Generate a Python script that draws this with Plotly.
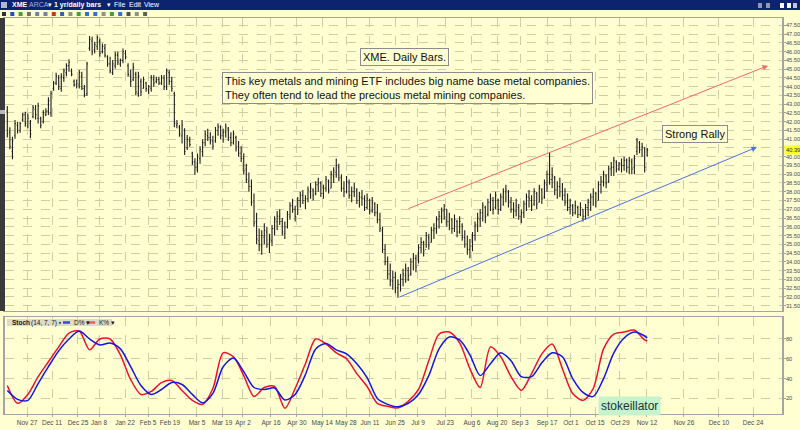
import plotly.graph_objects as go

# ---------------- data ----------------
highs = [42.89,41.68,41.14,42.09,42.00,42.00,42.51,42.57,42.47,42.09,
         42.95,42.95,43.08,42.28,42.66,42.76,43.39,43.77,44.32,44.79,
         44.66,44.76,45.04,45.33,45.56,45.04,44.41,44.41,44.95,44.85,
         44.09,45.42,46.89,46.85,46.56,46.94,46.75,46.47,46.43,45.80,
         45.71,45.52,45.99,45.99,45.61,46.18,46.09,45.33,44.98,45.37,
         44.85,44.85,44.47,44.57,44.28,44.09,44.66,44.66,44.57,44.57,
         44.66,44.66,45.04,44.95,44.57,43.71,42.09,41.81,42.09,41.62,
         41.24,41.14,40.29,39.91,40.19,
         40.6,41.0,41.5,41.6,41.4,41.2,41.7,41.9,41.8,41.6,
         41.9,41.7,41.4,41.5,41.2,40.9,40.6,40.2,39.6,39.1,
         38.7,37.9,36.8,35.9,35.8,36.2,36.0,35.6,36.1,36.6,
         36.9,37.0,36.5,36.3,36.9,37.4,37.6,37.2,37.7,38.0,
         38.1,37.8,38.3,38.5,38.2,38.6,38.8,38.6,38.4,38.9,
         38.7,39.2,39.4,39.9,39.6,39.0,38.6,38.9,38.7,38.3,
         38.5,38.2,38.0,38.1,37.8,37.9,37.6,37.7,37.4,37.3,
         36.8,36.0,35.0,34.3,33.9,33.5,33.4,33.0,33.3,33.6,
         33.9,33.7,34.2,34.5,34.4,35.0,35.4,35.2,35.7,35.6,
         36.0,36.2,36.6,36.9,37.1,37.3,37.0,36.8,36.5,36.7,
         36.4,36.6,36.2,35.8,35.5,35.3,35.7,36.3,36.8,37.0,
         37.4,37.2,37.6,37.9,37.7,38.0,37.6,37.9,38.2,38.4,
         38.1,37.7,37.4,37.6,37.3,37.0,37.5,37.9,38.1,37.8,
         38.2,38.0,38.4,38.2,38.7,39.2,40.25,39.4,38.9,38.6,
         38.8,38.5,38.2,37.9,37.6,37.3,37.5,37.2,37.4,37.0,
         37.3,37.6,37.9,38.2,38.0,38.6,38.9,39.2,39.0,39.5,
         39.7,40.0,39.8,39.7,39.9,40.0,39.9,40.0,39.9,40.1,
         41.07,40.9,40.8,40.55,40.5]
lows = [41.10,40.42,39.85,41.03,41.33,41.37,42.00,41.71,41.62,41.05,
        42.19,42.13,41.90,41.62,41.90,42.32,42.38,42.28,43.77,44.09,
        43.81,43.71,44.28,44.60,44.85,44.60,44.00,43.90,43.90,43.81,
        43.39,43.46,46.05,45.80,45.90,46.09,45.71,45.90,45.67,45.14,
        44.76,44.66,45.04,45.23,45.14,45.33,45.56,44.57,44.00,44.32,
        43.52,43.43,43.46,43.90,43.71,43.58,43.71,44.00,44.19,44.09,
        44.09,43.81,43.81,44.09,43.71,41.68,41.62,41.14,40.76,40.10,
        40.38,40.57,39.53,38.95,39.10,
        39.6,40.0,40.6,40.9,40.7,40.4,40.8,41.2,41.0,40.8,
        41.1,40.9,40.6,40.7,40.3,40.0,39.7,39.0,38.5,38.0,
        37.2,36.0,35.0,34.6,34.4,35.0,34.8,34.5,34.9,35.5,
        35.8,36.1,35.5,35.3,35.9,36.4,36.8,36.3,36.7,37.1,
        37.3,37.0,37.4,37.6,37.5,37.8,38.0,37.7,37.6,38.0,
        37.9,38.2,38.5,38.8,38.6,38.0,37.7,37.9,37.6,37.4,
        37.7,37.3,37.1,37.2,36.9,37.0,36.7,36.8,36.6,36.2,
        35.7,34.5,33.8,33.0,32.6,32.4,32.2,31.95,32.3,32.6,
        32.8,32.9,33.2,33.5,33.4,33.9,34.5,34.3,34.8,34.7,
        35.1,35.3,35.6,35.9,36.2,36.4,36.0,35.8,35.6,35.7,
        35.4,35.6,35.2,34.8,34.4,34.2,34.6,35.2,35.7,36.0,
        36.3,36.2,36.6,36.9,36.7,37.0,36.7,36.9,37.2,37.4,
        37.1,36.8,36.5,36.6,36.4,36.2,36.5,36.9,37.1,36.9,
        37.2,37.0,37.4,37.3,37.6,38.0,38.4,38.2,37.8,37.6,
        37.7,37.5,37.2,36.9,36.7,36.6,36.7,36.5,36.6,36.3,
        36.4,36.6,36.9,37.2,37.1,37.5,37.9,38.3,38.2,38.5,
        38.9,38.9,39.1,39.2,39.1,39.2,39.1,39.0,39.0,39.0,
        40.1,40.2,40.0,39.1,40.0]
opens = [42.6,41.4,40.3,41.2,41.8,41.5,42.1,42.4,41.8,41.9,
         42.3,42.7,42.2,42.2,42.0,42.4,42.6,42.5,43.9,44.2,
         44.5,43.9,44.5,44.8,45.2,44.9,44.3,44.1,44.1,44.6,
         43.9,43.6,46.2,46.6,46.1,46.3,46.6,46.0,46.2,45.7,
         45.3,44.8,45.2,45.8,45.3,45.5,45.9,45.2,44.6,44.4,
         44.7,43.6,44.3,43.9,44.2,43.8,43.9,44.4,44.3,44.4,
         44.2,44.5,44.0,44.8,44.3,43.6,41.8,41.7,41.2,41.5,
         40.5,40.9,40.2,39.7,39.4,
         39.9,40.3,40.8,41.2,41.1,40.9,40.9,41.5,41.7,41.2,
         41.4,41.6,41.1,40.8,41.1,40.6,40.2,39.9,39.3,38.6,
         38.3,37.5,36.3,35.2,34.9,35.4,35.7,35.0,35.2,35.9,
         36.3,36.6,36.3,35.6,36.0,36.6,37.2,37.0,36.7,37.5,
         37.8,37.5,37.6,38.0,38.1,37.9,38.4,38.5,37.9,38.2,
         38.6,38.2,38.9,39.1,39.4,38.8,38.2,38.0,38.5,37.8,
         38.0,38.1,37.5,37.7,37.6,37.1,37.5,36.9,37.3,36.8,
         36.4,35.8,34.7,34.0,33.3,32.9,33.1,32.5,32.7,33.0,
         33.2,33.5,33.3,34.0,34.2,33.8,34.8,35.1,34.7,35.4,
         35.1,35.8,35.9,36.4,36.6,36.9,37.0,36.3,36.4,35.9,
         36.3,35.7,36.1,35.4,35.0,34.7,34.9,35.5,36.1,36.4,
         36.8,37.1,36.7,37.4,37.5,37.1,37.5,37.0,37.7,38.0,
         38.0,37.4,37.0,36.9,37.1,36.6,36.8,37.3,37.7,37.5,
         37.3,37.9,37.4,38.1,37.7,38.4,39.0,38.7,38.8,38.1,
         38.3,38.0,37.8,37.4,37.1,37.2,36.8,37.1,36.7,37.0,
         36.6,37.1,37.4,37.7,37.9,37.5,38.4,38.6,38.9,38.6,
         39.3,39.4,39.7,39.3,39.6,39.5,39.8,39.4,39.7,39.4,
         40.3,40.8,40.4,40.5,40.1]
closes = [41.3,40.6,40.9,41.9,41.5,41.9,42.4,41.9,42.2,41.3,
          42.8,42.4,42.9,41.8,42.5,42.6,43.2,43.6,44.2,44.6,
          44.0,44.6,44.9,45.2,45.4,44.7,44.1,44.2,44.8,43.9,
          43.5,45.3,46.7,46.0,46.4,46.8,45.9,46.3,45.8,45.3,
          44.9,45.3,45.8,45.4,45.5,46.0,45.7,44.7,44.3,45.1,
          43.7,44.6,43.7,44.4,43.9,44.0,44.5,44.2,44.4,44.2,
          44.5,44.0,44.9,44.3,43.9,41.9,41.9,41.3,41.8,40.3,
          41.0,40.7,39.7,39.4,40.0,
          40.4,40.8,41.3,41.1,40.9,40.6,41.5,41.7,41.2,41.4,
          41.7,41.1,40.8,41.3,40.5,40.2,39.9,39.2,38.7,38.3,
          37.4,36.2,35.3,35.0,35.5,35.8,35.0,35.3,35.9,36.4,
          36.6,36.3,35.7,36.0,36.7,37.2,37.0,36.6,37.5,37.8,
          37.5,37.6,38.1,38.2,37.8,38.4,38.5,37.9,38.2,38.7,
          38.1,39.0,39.2,39.5,38.8,38.2,38.0,38.6,37.8,38.0,
          38.2,37.5,37.7,37.6,37.1,37.6,36.9,37.4,36.8,36.4,
          35.9,34.7,34.0,33.3,32.9,33.1,32.5,32.7,33.0,33.3,
          33.6,33.2,34.0,34.2,33.7,34.8,35.1,34.6,35.5,35.0,
          35.8,35.9,36.4,36.6,36.9,37.0,36.3,36.5,35.9,36.4,
          35.7,36.3,35.4,35.0,34.7,34.9,35.5,36.1,36.5,36.8,
          37.2,36.6,37.4,37.6,37.0,37.8,37.0,37.7,38.0,38.1,
          37.4,37.0,36.9,37.2,36.6,36.8,37.3,37.7,37.6,37.2,
          38.0,37.3,38.2,37.6,38.5,39.0,38.7,38.9,38.1,38.3,
          38.0,37.8,37.4,37.1,37.2,36.8,37.2,36.7,37.1,36.6,
          37.1,37.4,37.7,38.0,37.4,38.4,38.6,39.0,38.5,39.3,
          39.4,39.8,39.3,39.6,39.5,39.8,39.4,39.8,39.3,39.9,
          40.9,40.4,40.6,39.4,40.39]

# date labels and the trading-day index they sit on
tick_text = ["Nov 27","Dec 11","Dec 25","Jan 8","Jan 22","Feb 5","Feb 19","Mar 5",
             "Mar 19","Apr 2","Apr 16","Apr 30","May 14","May 28","Jun 11","Jun 25",
             "Jul 9","Jul 23","Aug 6","Aug 20","Sep 3","Sep 17","Oct 1","Oct 15",
             "Oct 29","Nov 12","Nov 26","Dec 10","Dec 24"]
tick_idx = [7.7,17.4,27.5,35.7,45.8,54.8,63.3,73.8,83.6,91.7,102.6,112.7,122.5,131.8,
            141.1,150.9,159.8,170.4,180.8,190.6,199.5,210.0,219.3,228.7,238.4,248.9,
            263.3,276.9,290.2]

# stochastic (14,7,7) readings
stoch_idx = [0,4,8,12,16,20,24,28,32,36,40,44,48,52,56,60,64,68,72,76,80,84,88,92,96,
             100,104,108,112,116,120,124,128,132,136,140,144,148,152,156,160,164,168,
             172,176,180,184,188,192,196,200,204,208,212,216,220,224,228,232,236,240,
             244,248,249]
stoch_k = [33,15,24,42,57,72,86,88,69,80,80,64,39,24,27,36,38,28,18,14,30,66,62,43,22,
           31,32,10,30,55,80,75,66,60,45,32,15,12,10.5,17,29,58,85,87,76,50,31,72,62,42,
           28,45,65,75,50,25,18,30,70,85,87,89,79,78]
stoch_d = [28,19,18,35,52,68,80,88,80,74,76,70,52,33,24,29,36,34,24,15.5,25,52,60.7,47,
           31,29,30.5,18.4,24,44,70,75.5,69,65,55,41,20,14,11.5,15,24,43,70,82,79,64,43,
           55,66,58,42,42,56,66,62,40,26,22,40,66,81,87,83,81]

# analyst trend lines: (start index, start price, end index, end price)
trend_upper = [155.5, 37.0, 296.0, 45.2]
trend_lower = [152.0, 31.95, 291.7, 40.55]
last_price = 40.39

price_ticks = [31.5 + 0.5 * k for k in range(33)]
stoch_ticks = [20, 40, 60, 80]

# ---------------- figure ----------------
n = min(len(highs), len(lows), len(opens), len(closes))
bar_idx = list(range(n))

BG = "#FFFFD2"
GRID = "#CDCDA6"
AX = "#A4A4A4"
FONT = "Liberation Sans"

W, H = 800, 430
ML, MR, MT, MB = 5, 18, 18, 16
PW, PH = W - ML - MR, H - MT - MB


def pxx(x):
    return (x - ML) / PW


def pxy(y):
    return (H - MB - y) / PH


# the last-price tag sits on top of the nearest tick label, as in the original
price_ticktext = ["" if abs(v - last_price) < 0.2 else f"{v:.2f}" for v in price_ticks]

fig = go.Figure()
fig.add_trace(go.Ohlc(x=bar_idx, open=opens[:n], high=highs[:n], low=lows[:n], close=closes[:n],
                      increasing_line_color="#1E1E1E", decreasing_line_color="#1E1E1E",
                      line_width=1.1, tickwidth=0.35, xaxis="x", yaxis="y",
                      showlegend=False, hoverinfo="skip"))
fig.add_trace(go.Scatter(x=stoch_idx, y=stoch_k, mode="lines",
                         line=dict(color="#F0102E", width=1.5, shape="spline", smoothing=0.8),
                         xaxis="x2", yaxis="y2", showlegend=False, hoverinfo="skip"))
fig.add_trace(go.Scatter(x=stoch_idx, y=stoch_d, mode="lines",
                         line=dict(color="#1414E6", width=1.5, shape="spline", smoothing=0.8),
                         xaxis="x2", yaxis="y2", showlegend=False, hoverinfo="skip"))

xr = [(ML - 7.3) / 2.57, (W - MR - 7.3) / 2.57]
price_top = pxy(311)
stoch_top = pxy(317)

grid_common = dict(showline=True, linecolor=AX, mirror=True, automargin=False,
                   gridcolor=GRID, griddash="dash", gridwidth=1, zeroline=False,
                   tickcolor=AX)
xfont = dict(family=FONT, size=6.5, color="#4A4A4A")
yfont = dict(family=FONT, size=5.7, color="#4A4A4A")

fig.update_layout(
    width=W, height=H,
    margin=dict(l=ML, r=MR, t=MT, b=MB, autoexpand=False),
    paper_bgcolor=BG, plot_bgcolor=BG,
    showlegend=False,
    xaxis=dict(domain=[0, 1], anchor="y", range=xr, tickvals=tick_idx, ticktext=tick_text,
               showticklabels=False, ticks="", rangeslider=dict(visible=False),
               linewidth=1, **grid_common),
    xaxis2=dict(domain=[0, 1], anchor="y2", range=xr, matches="x", tickvals=tick_idx,
                ticktext=tick_text, tickangle=0, tickfont=xfont, ticks="outside", ticklen=2,
                linewidth=1, **grid_common),
    yaxis=dict(domain=[price_top, 1], anchor="x", side="right", range=[31.19, 47.92],
               tickvals=price_ticks, ticktext=price_ticktext, tickfont=yfont, ticks="outside",
               ticklen=2, ticklabelstandoff=-1, linewidth=1.6, **grid_common),
    yaxis2=dict(domain=[0, stoch_top], anchor="x2", side="right", range=[4.24, 102.2],
                tickvals=stoch_ticks, tickfont=yfont, ticks="outside", ticklen=2,
                ticklabelstandoff=-1, linewidth=1.6, **grid_common),
)

shapes = []
annos = []

# window title bar
shapes.append(dict(type="rect", xref="paper", yref="paper", x0=pxx(0), x1=pxx(W),
                   y0=pxy(10), y1=pxy(0), fillcolor="#0C2470", line=dict(width=0), layer="above"))
shapes.append(dict(type="rect", xref="paper", yref="paper", x0=pxx(1), x1=pxx(7),
                   y0=pxy(8), y1=pxy(2), fillcolor="#B0B8D0", line=dict(width=0), layer="above"))
title_parts = [("<b>XME</b>", 11, "white"), ("ARCA", 27.5, "#A4AED2"), ("▾", 46.5, "white"),
               ("<b>1 yr/daily bars</b>", 53, "white"), ("▾", 105.5, "white"),
               ("File", 113, "white"), ("Edit", 128, "white"), ("View", 143, "white")]
for txt, x, col in title_parts:
    annos.append(dict(xref="paper", yref="paper", x=pxx(x), y=pxy(5), xanchor="left", yanchor="middle",
                      showarrow=False, text=txt, borderpad=0,
                      font=dict(family=FONT, size=7, color=col)))
for x0, c in ((758, "#9098B0"), (766, "#9098B0"), (780, "#FFFFFF"), (787, "#FFFFFF"), (793, "#C0C4D4")):
    shapes.append(dict(type="rect", xref="paper", yref="paper", x0=pxx(x0), x1=pxx(x0 + 4),
                       y0=pxy(8), y1=pxy(3), fillcolor=c, line=dict(width=0), layer="above"))

# toolbar icons
icon_cols = ["#303030", "#2050C0", "#40A040", "#707070", "#7080A0", "#7080A0", "#D03020",
             "#3060C0", "#909090", "#40A040", "#3070D0", "#3070D0", "#909090", "#40A040",
             "#3070D0", "#505050", "#909090", "#606060"]
for k, c in enumerate(icon_cols):
    x0 = 2 + k * 8.3
    shapes.append(dict(type="rect", xref="paper", yref="paper", x0=pxx(x0), x1=pxx(x0 + 4),
                       y0=pxy(16), y1=pxy(12), fillcolor=c, line=dict(width=0), layer="above"))

# left scrollbar
shapes.append(dict(type="rect", xref="paper", yref="paper", x0=pxx(0), x1=pxx(5),
                   y0=pxy(311), y1=pxy(18), fillcolor="#3A3A3A", line=dict(width=0), layer="above"))
shapes.append(dict(type="rect", xref="paper", yref="paper", x0=pxx(0), x1=pxx(5),
                   y0=pxy(114), y1=pxy(110), fillcolor="#B8B8B8", line=dict(width=0), layer="above"))

# stoch header band
shapes.append(dict(type="rect", xref="paper", yref="paper", x0=pxx(7), x1=pxx(112),
                   y0=pxy(326), y1=pxy(319), fillcolor="#DCDCC8", line=dict(width=0), layer="above"))
annos.append(dict(xref="paper", yref="paper", x=pxx(10), y=pxy(322.5), xanchor="left", yanchor="middle",
                  showarrow=False, text="<b>Stoch</b>", font=dict(family=FONT, size=6.5, color="#202020")))
annos.append(dict(xref="paper", yref="paper", x=pxx(29), y=pxy(322.5), xanchor="left", yanchor="middle",
                  showarrow=False, text="(14, 7, 7) ▪", font=dict(family=FONT, size=6.5, color="#202020")))
shapes.append(dict(type="line", xref="paper", yref="paper", x0=pxx(63), x1=pxx(70),
                   y0=pxy(322.5), y1=pxy(322.5), line=dict(color="#3A4AD8", width=2.5), layer="above"))
annos.append(dict(xref="paper", yref="paper", x=pxx(71.5), y=pxy(322.5), xanchor="left", yanchor="middle",
                  showarrow=False, text="D% ▾", font=dict(family=FONT, size=6.5, color="#202020")))
shapes.append(dict(type="line", xref="paper", yref="paper", x0=pxx(87), x1=pxx(95),
                   y0=pxy(322.5), y1=pxy(322.5), line=dict(color="#E86060", width=2.5), layer="above"))
annos.append(dict(xref="paper", yref="paper", x=pxx(96.5), y=pxy(322.5), xanchor="left", yanchor="middle",
                  showarrow=False, text="K% ▾", font=dict(family=FONT, size=6.5, color="#202020")))

# trend lines with arrow heads
for tl, col in ((trend_upper, "#F06868"), (trend_lower, "#4A72E0")):
    annos.append(dict(xref="x", yref="y", axref="x", ayref="y", x=tl[2], y=tl[3], ax=tl[0], ay=tl[1],
                      text="", showarrow=True, arrowhead=2, arrowsize=1.1, arrowwidth=1,
                      arrowcolor=col, standoff=0))

# text boxes
box = dict(showarrow=False, bordercolor="#8C8C8C", borderwidth=1, borderpad=2, bgcolor=BG,
           font=dict(family=FONT, size=11, color="#101010"))
annos.append(dict(xref="x", yref="y", x=154.7, y=45.72, text="XME. Daily Bars.", **box))
annos.append(dict(xref="x", yref="y", x=83.7, y=43.95, xanchor="left", align="left",
                  text="This key metals and mining ETF includes big name base metal companies.<br>"
                       "They often tend to lead the precious metal mining companies.", **box))
annos.append(dict(xref="x", yref="y", x=267.6, y=41.32, text="Strong Rally", **box))
annos.append(dict(xref="x2", yref="y2", x=242.1, y=12.8, text="stokeillator", showarrow=False,
                  bgcolor="#C6F2CC", borderpad=2, font=dict(family=FONT, size=12, color="#1C3434")))

# last price tag
annos.append(dict(xref="paper", yref="y", x=1.0, y=last_price, xanchor="left", yanchor="middle",
                  xshift=2, showarrow=False, text=f"{last_price:.2f}", bgcolor="#FFFF20", borderpad=1,
                  font=dict(family=FONT, size=5.7, color="#303030")))

fig.update_layout(shapes=shapes, annotations=annos)
fig.write_html("out.html", config={"displayModeBar": False},
               post_script="document.body.style.margin='0';document.body.style.overflow='hidden';")
